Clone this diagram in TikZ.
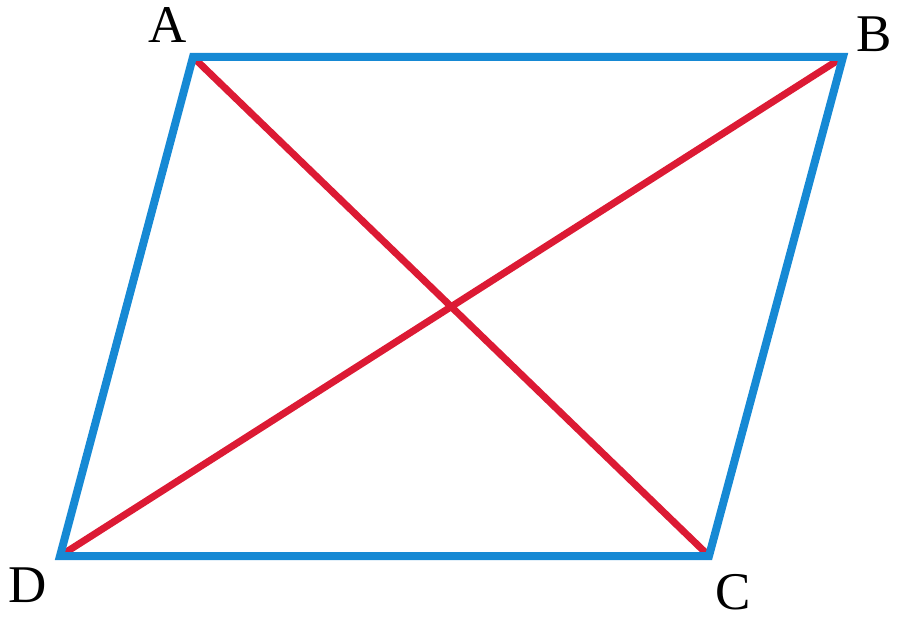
\documentclass[tikz,border=0pt]{standalone}
\usepackage{fontspec}
\setmainfont{Liberation Serif}
\usetikzlibrary{calc}

\definecolor{sideblue}{RGB}{22,137,212}
\definecolor{diagred}{RGB}{220,26,52}

\begin{document}
\begin{tikzpicture}[x=1pt, y=-1pt, every node/.style={font=\fontsize{53}{53}\selectfont, inner sep=0pt, anchor=base}]
		\useasboundingbox (0,0) rectangle (900,620);
		\path (193,57) coordinate (A);
		\path (843,57) coordinate (B);
		\path (709,556) coordinate (C);
		\path (60,556) coordinate (D);

		\draw[diagred, line width=7pt] (A) -- (C);
		\draw[diagred, line width=7pt] (D) -- (B);
		\draw[sideblue, line width=8pt, miter limit=20] (A) -- (B) -- (C) -- (D) -- cycle;

		\node (labelA) at (168,43) {A};
		\node (labelB) at (874,52) {B};
		\node (labelC) at (733,609) {C};
		\node (labelD) at (28,602) {D};
	\end{tikzpicture}
\end{document}
